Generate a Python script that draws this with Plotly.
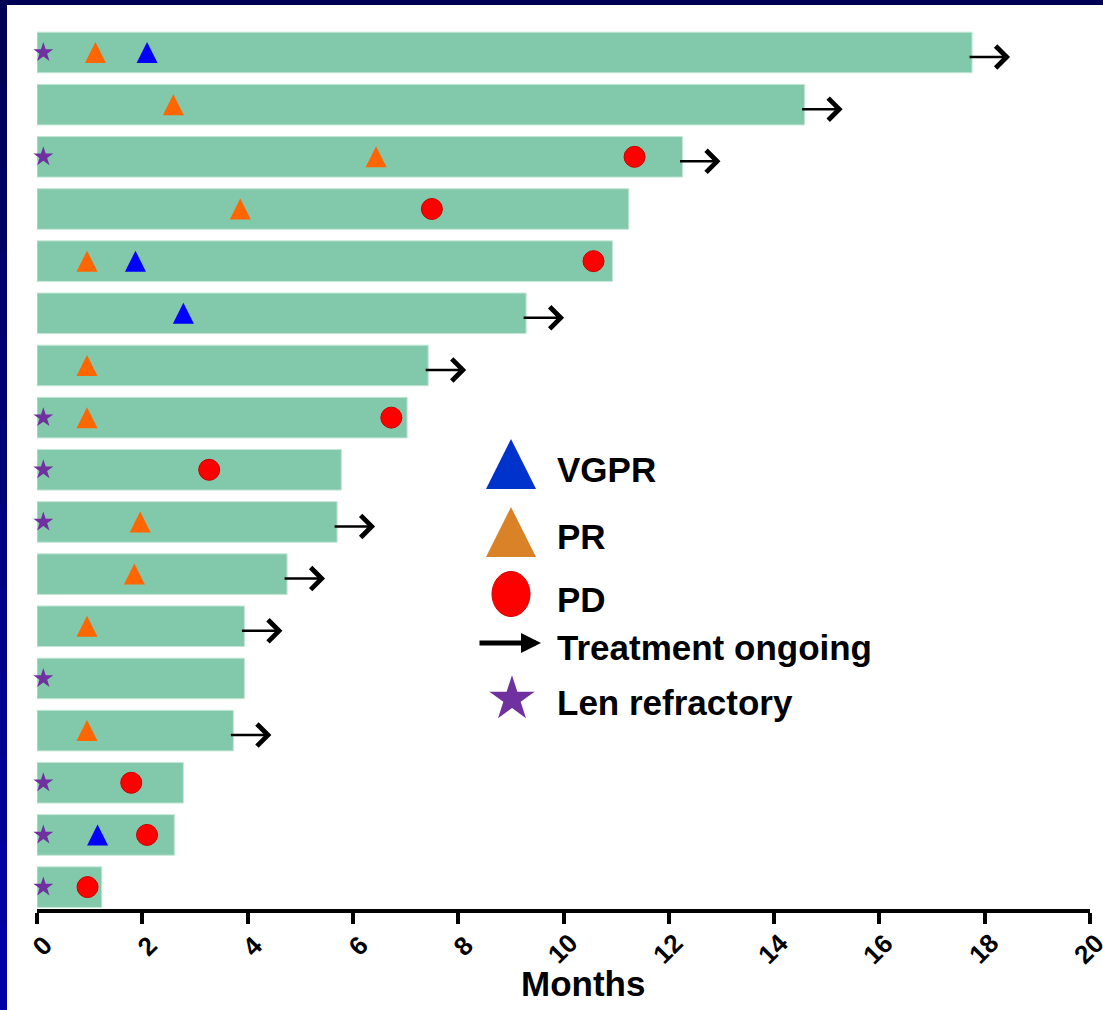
import plotly.graph_objects as go

# ---------------- data (patients listed top to bottom) ----------------
patients = list(range(1, 18))
months_on_treatment = [17.76, 14.58, 12.26, 11.24, 10.93, 9.29, 7.43, 7.03,
                       5.78, 5.70, 4.75, 3.94, 3.94, 3.73, 2.78, 2.61, 1.23]
ongoing = [True, True, True, False, False, True, True, False,
           False, True, True, True, False, True, False, False, False]

len_refractory_patients = [1, 3, 8, 9, 10, 13, 15, 16, 17]
len_refractory_month = [0.12] * len(len_refractory_patients)

pr_patients = [1, 2, 3, 4, 5, 7, 8, 10, 11, 12, 14]
pr_month = [1.11, 2.59, 6.44, 3.86, 0.95, 0.95, 0.95, 1.96, 1.85, 0.95, 0.95]

vgpr_patients = [1, 5, 6, 16]
vgpr_month = [2.09, 1.87, 2.78, 1.15]

pd_patients = [3, 4, 5, 8, 9, 15, 16, 17]
pd_month = [11.35, 7.50, 10.57, 6.73, 3.27, 1.79, 2.09, 0.96]

x_ticks = [0, 2, 4, 6, 8, 10, 12, 14, 16, 18, 20]
x_tick_labels = [str(t) for t in x_ticks]
legend_labels = ["VGPR", "PR", "PD", "Treatment ongoing", "Len refractory"]

# ---------------- layout geometry ----------------
W, H = 1103, 1010
L, R, T, B = 37, 13, 20, 101
PW, PH = W - L - R, H - T - B
Y_LO, Y_HI = -0.623, 16.42          # top / bottom of the y range (reversed)
row_px = PH / (Y_HI - Y_LO)
month_px = PW / 20.0

FONT = "Liberation Sans, Arial, Helvetica, sans-serif"


def px_x(px):
    return (px - L) / PW


def px_y(py):
    return (H - B - py) / PH


def row_of(p):
    return p - 1


bar_color = "#82C9AB"
tri_size = 21
tri_dy = -(tri_size / 2) / row_px     # arrow-up symbol has its apex at the point

fig = go.Figure()

fig.add_trace(go.Bar(
    x=months_on_treatment, y=[row_of(p) for p in patients], base=0,
    orientation="h", width=0.778,
    marker=dict(color=bar_color, line=dict(color="#C4E6D6", width=1)),
    showlegend=False, hoverinfo="skip",
))

fig.add_trace(go.Scatter(
    x=len_refractory_month, y=[row_of(p) for p in len_refractory_patients],
    mode="markers", marker=dict(symbol="star", size=15, color="#7030A0", line=dict(width=0)),
    showlegend=False, cliponaxis=False,
))
fig.add_trace(go.Scatter(
    x=pr_month, y=[row_of(p) + tri_dy for p in pr_patients],
    mode="markers", marker=dict(symbol="arrow-up", size=tri_size, color="#FF6600", line=dict(width=0)),
    showlegend=False, cliponaxis=False,
))
fig.add_trace(go.Scatter(
    x=vgpr_month, y=[row_of(p) + tri_dy for p in vgpr_patients],
    mode="markers", marker=dict(symbol="arrow-up", size=tri_size, color="#0000FF", line=dict(width=0)),
    showlegend=False, cliponaxis=False,
))
fig.add_trace(go.Scatter(
    x=pd_month, y=[row_of(p) for p in pd_patients],
    mode="markers", marker=dict(symbol="circle", size=21, color="#FF0000", line=dict(color="#C80000", width=1)),
    showlegend=False, cliponaxis=False,
))

annotations = []
# treatment-ongoing arrows
arrow_dy = 4.5 / row_px
tail_back = 4 / month_px
tip_len = 38 / month_px
for p, m, on in zip(patients, months_on_treatment, ongoing):
    if not on:
        continue
    yy = row_of(p) + arrow_dy
    annotations.append(dict(
        x=m + tip_len, y=yy, ax=m - tail_back, ay=yy,
        xref="x", yref="y", axref="x", ayref="y",
        text="", showarrow=True, arrowhead=4, arrowsize=1.7, arrowwidth=2.5,
        arrowcolor="black", standoff=0,
    ))

# rotated tick labels (end of each label sits just right of its tick)
for tv, tl in zip(x_ticks, x_tick_labels):
    n = len(tl)
    annotations.append(dict(
        x=tv + (11.5 - 6.5 * n) / month_px, y=px_y(943.5 + 2.5 * n),
        xref="x", yref="paper", text=tl, showarrow=False, textangle=-45,
        xanchor="center", yanchor="middle",
        font=dict(family=FONT, size=26, color="black", weight="bold"),
    ))

# ---------------- custom legend (overlay axes in pixel units) ----------------
leg_x = 511
leg_y = [464, 532, 594, 643, 697]
leg_text_x = 555
leg_text_y = [469, 536, 599, 647, 702]

fig.add_trace(go.Scatter(
    x=[leg_x], y=[leg_y[0] - 25], xaxis="x2", yaxis="y2", mode="markers",
    marker=dict(symbol="arrow-up", size=50, color="#0033CC", line=dict(width=0)),
    showlegend=False, cliponaxis=False, hoverinfo="skip",
))
fig.add_trace(go.Scatter(
    x=[leg_x], y=[leg_y[1] - 25], xaxis="x2", yaxis="y2", mode="markers",
    marker=dict(symbol="arrow-up", size=50, color="#D98228", line=dict(width=0)),
    showlegend=False, cliponaxis=False, hoverinfo="skip",
))
fig.add_trace(go.Scatter(
    x=[leg_x + 1], y=[leg_y[4] + 2], xaxis="x2", yaxis="y2", mode="markers",
    marker=dict(symbol="star", size=34, color="#7030A0", line=dict(width=0)),
    showlegend=False, cliponaxis=False, hoverinfo="skip",
))

shapes = []
# PD legend ellipse
shapes.append(dict(type="circle", xref="x2", yref="y2",
                   x0=leg_x - 19, x1=leg_x + 19, y0=leg_y[2] - 22.5, y1=leg_y[2] + 22.5,
                   fillcolor="#FF0000", line=dict(color="#D00000", width=1)))
# legend arrow
annotations.append(dict(
    x=541, y=leg_y[3], ax=478, ay=leg_y[3], xref="x2", yref="y2", axref="x2", ayref="y2",
    text="", showarrow=True, arrowhead=2, arrowsize=0.8, arrowwidth=5,
    arrowcolor="black", standoff=0,
))
for lab, ty in zip(legend_labels, leg_text_y):
    annotations.append(dict(
        x=leg_text_x, y=ty, xref="x2", yref="y2", text=lab, showarrow=False,
        xanchor="left", yanchor="middle",
        font=dict(family=FONT, size=35, color="black", weight="bold"),
    ))

# axis title
annotations.append(dict(
    x=px_x(582.5), y=px_y(983), xref="paper", yref="paper", text="Months",
    showarrow=False, xanchor="center", yanchor="middle",
    font=dict(family=FONT, size=35, color="black", weight="bold"),
))

# navy frame (top strip and left strip shading darker to brighter)
shapes.append(dict(type="rect", xref="paper", yref="paper", layer="above",
                   x0=px_x(0), x1=px_x(W), y0=px_y(0), y1=px_y(5),
                   fillcolor="#000055", line=dict(width=0)))
n_seg = 12
for i in range(n_seg):
    t = i / (n_seg - 1)
    col = "rgb(0,0,%d)" % round(85 + (165 - 85) * t)
    shapes.append(dict(type="rect", xref="paper", yref="paper", layer="above",
                       x0=px_x(0), x1=px_x(7),
                       y0=px_y(H * i / n_seg), y1=px_y(H * (i + 1) / n_seg + 1),
                       fillcolor=col, line=dict(width=0)))

fig.update_layout(
    width=W, height=H,
    margin=dict(l=L, r=R, t=T, b=B, pad=0),
    paper_bgcolor="white", plot_bgcolor="white",
    showlegend=False,
    barmode="overlay",
    xaxis=dict(
        range=[0, 20], tickvals=x_ticks, showticklabels=False,
        showline=True, linecolor="black", linewidth=4,
        ticks="outside", ticklen=11, tickwidth=4, tickcolor="black",
        showgrid=False, zeroline=False, automargin=False, fixedrange=True,
    ),
    yaxis=dict(range=[Y_HI, Y_LO], visible=False, showgrid=False, zeroline=False,
               automargin=False, fixedrange=True),
    xaxis2=dict(range=[L, W - R], overlaying="x", anchor="y2", visible=False,
                showgrid=False, zeroline=False, fixedrange=True),
    yaxis2=dict(range=[H - B, T], overlaying="y", anchor="x2", visible=False,
                showgrid=False, zeroline=False, fixedrange=True),
    annotations=annotations,
    shapes=shapes,
)

fig.write_html("out.html")
